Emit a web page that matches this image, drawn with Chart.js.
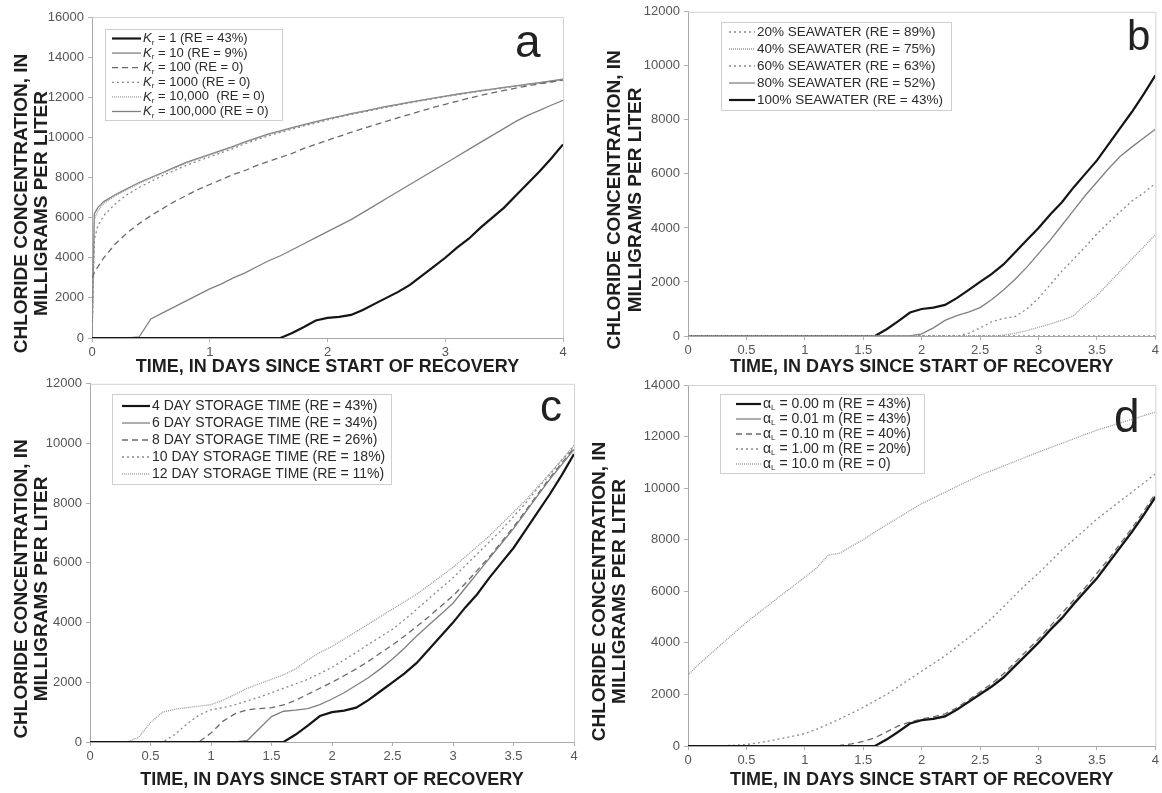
<!DOCTYPE html>
<html>
<head>
<meta charset="utf-8">
<script src="https://cdn.jsdelivr.net/npm/chart.js@4.4.1/dist/chart.umd.min.js"></script>
<style>
  body { margin: 0; background: #fff; }
  #wrap { position: relative; width: 1162px; height: 793px; overflow: hidden; }
  canvas { position: absolute; }
</style>
</head>
<body>
<div id="wrap">
  <canvas id="chartA" width="581" height="380" style="left:0;top:0"></canvas>
  <canvas id="chartB" width="581" height="380" style="left:581px;top:0"></canvas>
  <canvas id="chartC" width="581" height="421" style="left:0;top:372px"></canvas>
  <canvas id="chartD" width="581" height="421" style="left:581px;top:372px"></canvas>
</div>
<script>
// time axis, days since start of recovery
const daysA = [0, 0.02, 0.05, 0.1, 0.2, 0.3, 0.4, 0.5, 0.6, 0.7, 0.8, 0.9, 1.0, 1.1, 1.2, 1.3, 1.4, 1.5, 1.6, 1.7, 1.8, 1.9,
  2.0, 2.1, 2.2, 2.3, 2.4, 2.5, 2.6, 2.7, 2.8, 2.9, 3.0, 3.1, 3.2, 3.3, 3.4, 3.5, 3.6, 3.7, 3.8, 3.9, 4.0];
const days = [0, 0.1, 0.2, 0.3, 0.4, 0.5, 0.6, 0.7, 0.8, 0.9, 1.0, 1.1, 1.2, 1.3, 1.4, 1.5, 1.6, 1.7, 1.8, 1.9,
  2.0, 2.1, 2.2, 2.3, 2.4, 2.5, 2.6, 2.7, 2.8, 2.9, 3.0, 3.1, 3.2, 3.3, 3.4, 3.5, 3.6, 3.7, 3.8, 3.9, 4.0];

// panel a: retardation coefficient Kr (uses daysA)
const kr1 = [0, 0, 0, 0, 0, 0, 0, 0, 0, 0, 0, 0, 0, 0, 0, 0, 0, 0, 0,
  250, 550, 870, 1000, 1050, 1150, 1400, 1700, 2000, 2300, 2650, 3100, 3550, 4000, 4500, 4950, 5500, 6000, 6500, 7100, 7700, 8300, 8950, 9650];
const kr10 = [0, 0, 0, 0, 0, 0, 50, 950, 1250, 1550, 1850, 2150, 2450, 2700, 3000, 3250, 3550, 3850, 4100, 4400, 4700, 5000,
  5300, 5600, 5900, 6250, 6600, 6950, 7300, 7650, 8000, 8350, 8700, 9050, 9400, 9750, 10100, 10450, 10800, 11100, 11350, 11600, 11850];
const kr100 = [3000, 3250, 3550, 4000, 4700, 5250, 5700, 6100, 6450, 6800, 7100, 7400, 7650, 7900, 8150, 8350, 8600, 8800, 9000, 9200, 9450, 9650,
  9850, 10050, 10250, 10440, 10620, 10800, 10980, 11150, 11320, 11490, 11650, 11800, 11950, 12090, 12220, 12340, 12460, 12570, 12670, 12760, 12850];
const kr1000 = [0, 4900, 5600, 6100, 6700, 7150, 7500, 7800, 8100, 8350, 8600, 8820, 9030, 9240, 9450, 9680, 9890, 10080, 10250, 10410, 10570, 10720,
  10870, 11010, 11140, 11260, 11380, 11500, 11610, 11720, 11830, 11930, 12030, 12120, 12210, 12300, 12390, 12470, 12550, 12630, 12710, 12790, 12880];
const kr10000 = [0, 5900, 6350, 6700, 7100, 7400, 7700, 7960, 8210, 8460, 8710, 8920, 9120, 9320, 9520, 9750, 9950, 10140, 10300, 10460, 10610, 10760,
  10900, 11030, 11160, 11280, 11400, 11520, 11630, 11740, 11845, 11945, 12045, 12135, 12225, 12315, 12400, 12480, 12560, 12640, 12720, 12800, 12890];
const kr100000 = [0, 6200, 6500, 6800, 7150, 7450, 7750, 8000, 8250, 8500, 8750, 8950, 9150, 9350, 9550, 9780, 9980, 10170, 10330, 10480, 10630, 10780,
  10920, 11050, 11180, 11300, 11420, 11540, 11650, 11760, 11860, 11960, 12060, 12150, 12240, 12330, 12410, 12490, 12570, 12650, 12730, 12810, 12900];

// panel b: seawater fraction
const sw100 = [0, 0, 0, 0, 0, 0, 0, 0, 0, 0, 0, 0, 0, 0, 0, 0, 0,
  250, 550, 870, 1000, 1050, 1150, 1400, 1700, 2000, 2300, 2650, 3100, 3550, 4000, 4500, 4950, 5500, 6000, 6500, 7100, 7700, 8300, 8950, 9650];
const sw80 = [0, 0, 0, 0, 0, 0, 0, 0, 0, 0, 0, 0, 0, 0, 0, 0, 0, 0, 0, 0,
  80, 300, 580, 750, 880, 1050, 1350, 1700, 2100, 2550, 3050, 3550, 4100, 4650, 5200, 5700, 6200, 6650, 7000, 7330, 7650];
const sw60 = [0, 0, 0, 0, 0, 0, 0, 0, 0, 0, 0, 0, 0, 0, 0, 0, 0, 0, 0, 0, 0, 0, 0, 0,
  100, 300, 530, 650, 720, 1000, 1400, 1900, 2400, 2850, 3300, 3780, 4200, 4600, 5000, 5300, 5650];
const sw40 = [0, 0, 0, 0, 0, 0, 0, 0, 0, 0, 0, 0, 0, 0, 0, 0, 0, 0, 0, 0, 0, 0, 0, 0, 0, 0, 0,
  30, 100, 200, 320, 450, 580, 750, 1150, 1500, 1950, 2400, 2850, 3300, 3750];
const sw20 = [0, 0, 0, 0, 0, 0, 0, 0, 0, 0, 0, 0, 0, 0, 0, 0, 0, 0, 0, 0, 0,
  0, 0, 0, 0, 0, 0, 0, 0, 0, 0, 0, 0, 0, 0, 0, 0, 0, 0, 0, 0];

// panel c: storage time
const st4 = [0, 0, 0, 0, 0, 0, 0, 0, 0, 0, 0, 0, 0, 0, 0, 0, 0,
  250, 550, 870, 1000, 1050, 1150, 1400, 1700, 2000, 2300, 2650, 3100, 3550, 4000, 4500, 4950, 5500, 6000, 6500, 7100, 7700, 8300, 8950, 9650];
const st6 = [0, 0, 0, 0, 0, 0, 0, 0, 0, 0, 0, 0, 0,
  50, 450, 850, 1030, 1070, 1120, 1250, 1440, 1650, 1900, 2150, 2450, 2780, 3150, 3550, 3920, 4280, 4650, 5150, 5650, 6150, 6650, 7150, 7700, 8250, 8800, 9300, 9800];
const st8 = [0, 0, 0, 0, 0, 0, 0, 0, 0, 0,
  300, 700, 950, 1080, 1120, 1150, 1240, 1400, 1600, 1800, 2000, 2220, 2450, 2700, 2980, 3250, 3550, 3870, 4200, 4550, 4900, 5300, 5750, 6200, 6700, 7200, 7750, 8300, 8850, 9350, 9850];
const st10 = [0, 0, 0, 0, 0, 0, 0,
  250, 600, 900, 1080, 1150, 1250, 1380, 1500, 1650, 1800, 1950, 2100, 2300, 2500, 2750, 3000, 3270, 3520, 3780, 4100, 4450, 4800, 5150, 5500, 5900, 6300, 6700, 7100, 7550, 8000, 8500, 8950, 9450, 9900];
const st12 = [0, 0, 0, 0,
  150, 650, 1000, 1100, 1150, 1200, 1250, 1400, 1600, 1800, 1950, 2100, 2250, 2450, 2750, 3000, 3200, 3450, 3700, 3950, 4200, 4450, 4700, 4950, 5250, 5550, 5850, 6200, 6550, 6900, 7300, 7700, 8100, 8550, 9000, 9450, 9950];

// panel d: longitudinal dispersivity
const al000 = [0, 0, 0, 0, 0, 0, 0, 0, 0, 0, 0, 0, 0, 0, 0, 0, 0,
  250, 550, 870, 1000, 1050, 1150, 1400, 1700, 2000, 2300, 2650, 3100, 3550, 4000, 4500, 4950, 5500, 6000, 6500, 7100, 7700, 8300, 8950, 9650];
const al001 = [0, 0, 0, 0, 0, 0, 0, 0, 0, 0, 0, 0, 0, 0, 0, 0, 0,
  280, 580, 890, 1020, 1080, 1180, 1430, 1730, 2040, 2340, 2700, 3150, 3600, 4050, 4550, 5000, 5550, 6050, 6550, 7150, 7750, 8350, 9000, 9700];
const al010 = [0, 0, 0, 0, 0, 0, 0, 0, 0, 0, 0, 0, 0,
  20, 80, 180, 320, 550, 780, 930, 1050, 1130, 1250, 1480, 1780, 2100, 2420, 2800, 3250, 3700, 4150, 4650, 5150, 5650, 6150, 6700, 7250, 7850, 8450, 9100, 9800];
const al100 = [0, 0, 0, 10, 30, 60, 120, 200, 290, 380, 480, 650, 850, 1050, 1270, 1500, 1750, 2000, 2300, 2600,
  2900, 3200, 3500, 3850, 4200, 4550, 4950, 5400, 5850, 6300, 6700, 7150, 7600, 8000, 8400, 8800, 9150, 9500, 9850, 10200, 10550];
const al1000 = [2750, 3200, 3600, 4000, 4400, 4800, 5150, 5500, 5850, 6200, 6550, 6900, 7400, 7480, 7750, 8000, 8300, 8580, 8850, 9130,
  9400, 9620, 9840, 10060, 10280, 10500, 10680, 10860, 11040, 11220, 11400, 11570, 11740, 11910, 12080, 12250, 12390, 12530, 12670, 12810, 12950];

const labelsA = ['K_r = 1 (RE = 43%)', 'K_r = 10 (RE = 9%)', 'K_r = 100 (RE = 0)', 'K_r = 1000 (RE = 0)', 'K_r = 10,000  (RE = 0)', 'K_r = 100,000 (RE = 0)'];
const labelsB = ['20% SEAWATER (RE = 89%)', '40% SEAWATER (RE = 75%)', '60% SEAWATER (RE = 63%)', '80% SEAWATER (RE = 52%)', '100% SEAWATER (RE = 43%)'];
const labelsC = ['4 DAY STORAGE TIME (RE = 43%)', '6 DAY STORAGE TIME (RE = 34%)', '8 DAY STORAGE TIME (RE = 26%)', '10 DAY STORAGE TIME (RE = 18%)', '12 DAY STORAGE TIME (RE = 11%)'];
const labelsD = ['\u03b1_L = 0.00 m (RE = 43%)', '\u03b1_L = 0.01 m (RE = 43%)', '\u03b1_L = 0.10 m (RE = 40%)', '\u03b1_L = 1.00 m (RE = 20%)', '\u03b1_L = 10.0 m (RE = 0)'];

const X_TITLE = 'TIME, IN DAYS SINCE START OF RECOVERY';
const Y_TITLE = ['CHLORIDE CONCENTRATION, IN', 'MILLIGRAMS PER LITER'];
const FONT = '"Liberation Sans", Arial, sans-serif';

// line styles
const BLACK = { borderColor: '#151515', borderWidth: 2.2, borderDash: [] };
const SOLID = { borderColor: '#808080', borderWidth: 1.3, borderDash: [] };
const DASH = { borderColor: '#6a6a6a', borderWidth: 1.3, borderDash: [6, 4] };
const DOT = { borderColor: '#8a8a8a', borderWidth: 1.3, borderDash: [2, 3] };
const FINE = { borderColor: '#9a9a9a', borderWidth: 1.3, borderDash: [1, 1] };

function series(xs, ys, label, style) {
  return Object.assign({
    label: label,
    data: xs.map((x, i) => ({ x: x, y: ys[i] })),
    pointRadius: 0,
    tension: 0,
    fill: false
  }, style);
}

function drawLabel(ctx, text, x, y, o) {
  const base = o.fontSize + 'px ' + FONT;
  const k = text.indexOf('_');
  ctx.textBaseline = 'middle';
  ctx.textAlign = 'left';
  if (k < 0) {
    ctx.font = base;
    ctx.fillText(text, x, y);
    return;
  }
  const pre = text.slice(0, k), sub = text[k + 1], post = text.slice(k + 2);
  ctx.font = (o.italicPre ? 'italic ' : '') + base;
  ctx.fillText(pre, x, y);
  x += ctx.measureText(pre).width;
  ctx.font = Math.round(o.fontSize * 0.6) + 'px ' + FONT;
  ctx.fillText(sub, x, y + o.fontSize * 0.3);
  x += ctx.measureText(sub).width;
  ctx.font = base;
  ctx.fillText(post, x, y);
}

const panelDecor = {
  id: 'panelDecor',
  afterDraw(chart, args, o) {
    const ctx = chart.ctx;
    const ca = chart.chartArea;
    ctx.save();
    // light frame on top and right
    ctx.strokeStyle = '#d2d2d2';
    ctx.lineWidth = 1;
    ctx.beginPath();
    ctx.moveTo(ca.left, ca.top + 0.5);
    ctx.lineTo(ca.right + 0.5, ca.top + 0.5);
    ctx.lineTo(ca.right + 0.5, ca.bottom);
    ctx.stroke();
    // y-axis title, two rotated lines, sitting a little below the plot centre
    ctx.save();
    ctx.translate(0, (ca.top + ca.bottom) / 2 + 26);
    ctx.rotate(-Math.PI / 2);
    ctx.fillStyle = '#1e1e1e';
    ctx.font = 'bold 19px ' + FONT;
    ctx.textAlign = 'center';
    ctx.textBaseline = 'middle';
    Y_TITLE.forEach((line, i) => ctx.fillText(line, 0, o.yTitleX[i]));
    ctx.restore();
    // legend box
    const L = o.legend;
    ctx.fillStyle = '#fff';
    ctx.fillRect(L.x, L.y, L.w, L.h);
    ctx.strokeStyle = '#cfcfcf';
    ctx.strokeRect(L.x + 0.5, L.y + 0.5, L.w, L.h);
    chart.data.datasets.forEach((ds, i) => {
      const cy = L.rowY + i * L.rowH;
      ctx.strokeStyle = ds.borderColor;
      ctx.lineWidth = ds.borderWidth;
      ctx.setLineDash(ds.borderDash || []);
      ctx.beginPath();
      ctx.moveTo(L.sx0, cy);
      ctx.lineTo(L.sx1, cy);
      ctx.stroke();
      ctx.setLineDash([]);
      ctx.fillStyle = '#2a2a2a';
      drawLabel(ctx, ds.label, L.tx, cy, L);
    });
    // panel letter
    ctx.fillStyle = '#222';
    ctx.font = o.letter.size + 'px ' + FONT;
    ctx.textAlign = 'left';
    ctx.textBaseline = 'alphabetic';
    ctx.fillText(o.letter.text, o.letter.x, o.letter.y);
    ctx.restore();
  }
};

function makeChart(id, p) {
  new Chart(document.getElementById(id), {
    type: 'line',
    data: { datasets: p.datasets },
    plugins: [panelDecor],
    options: {
      responsive: false,
      animation: false,
      devicePixelRatio: 1,
      layout: { padding: { top: p.padTop, right: p.padRight, left: 0, bottom: 0 } },
      plugins: {
        legend: { display: false },
        tooltip: { enabled: false },
        panelDecor: { legend: p.legend, letter: p.letter, yTitleX: p.yTitleX }
      },
      scales: {
        x: {
          type: 'linear', min: 0, max: 4,
          afterFit: s => { s.height = p.xh; },
          ticks: { stepSize: p.xStep, callback: v => String(v), color: '#555', font: { family: FONT, size: 13 }, padding: 3, maxRotation: 0, autoSkip: false },
          grid: { drawOnChartArea: false, color: '#b0b0b0', tickLength: 4 },
          border: { color: '#a8a8a8' },
          title: { display: true, text: X_TITLE, color: '#1e1e1e', font: { family: FONT, size: 18, weight: 'bold', lineHeight: 1.1 }, padding: { top: 0, bottom: 3 } }
        },
        y: {
          min: 0, max: p.yMax,
          afterFit: s => { s.width = p.yw; },
          ticks: { stepSize: 2000, callback: v => String(v), color: '#555', font: { family: FONT, size: 13 }, padding: 4 },
          grid: { drawOnChartArea: false, color: '#b0b0b0', tickLength: 4 },
          border: { color: '#a8a8a8' },
          title: { display: false }
        }
      }
    }
  });
}

makeChart('chartA', {
  datasets: [
    series(daysA, kr1, labelsA[0], BLACK),
    series(daysA, kr10, labelsA[1], SOLID),
    series(daysA, kr100, labelsA[2], DASH),
    series(daysA, kr1000, labelsA[3], DOT),
    series(daysA, kr10000, labelsA[4], FINE),
    series(daysA, kr100000, labelsA[5], SOLID)
  ],
  yMax: 16000, xStep: 1, yw: 92, xh: 42, padTop: 17, padRight: 18, yTitleX: [22, 42],
  legend: { x: 105, y: 29, w: 177, h: 91, rowY: 38.5, rowH: 14.6, sx0: 112, sx1: 141, tx: 143, fontSize: 13, italicPre: true },
  letter: { text: 'a', x: 515, y: 57, size: 46 }
});

makeChart('chartB', {
  datasets: [
    series(days, sw100, labelsB[4], BLACK),
    series(days, sw80, labelsB[3], SOLID),
    series(days, sw60, labelsB[2], DOT),
    series(days, sw40, labelsB[1], FINE),
    series(days, sw20, labelsB[0], DOT)
  ].reverse(),
  yMax: 12000, xStep: 0.5, yw: 107, xh: 44, padTop: 10, padRight: 4, yTitleX: [34, 55],
  legend: { x: 140, y: 22, w: 230, h: 88, rowY: 32, rowH: 17, sx0: 148, sx1: 174, tx: 176, fontSize: 13.5, italicPre: false },
  letter: { text: 'b', x: 546, y: 50, size: 42 }
});

makeChart('chartC', {
  datasets: [
    series(days, st4, labelsC[0], BLACK),
    series(days, st6, labelsC[1], SOLID),
    series(days, st8, labelsC[2], DASH),
    series(days, st10, labelsC[3], DOT),
    series(days, st12, labelsC[4], FINE)
  ],
  yMax: 12000, xStep: 0.5, yw: 90, xh: 51, padTop: 11, padRight: 7, yTitleX: [22, 42],
  legend: { x: 112, y: 22, w: 279, h: 90, rowY: 34, rowH: 17, sx0: 122, sx1: 150, tx: 152, fontSize: 14, italicPre: false },
  letter: { text: 'c', x: 540, y: 49, size: 44 }
});

makeChart('chartD', {
  datasets: [
    series(days, al000, labelsD[0], BLACK),
    series(days, al001, labelsD[1], SOLID),
    series(days, al010, labelsD[2], DASH),
    series(days, al100, labelsD[3], DOT),
    series(days, al1000, labelsD[4], FINE)
  ],
  yMax: 14000, xStep: 0.5, yw: 107, xh: 47, padTop: 13, padRight: 4, yTitleX: [19, 39],
  legend: { x: 139, y: 22, w: 204, h: 79, rowY: 32, rowH: 15, sx0: 155, sx1: 180, tx: 182, fontSize: 14, italicPre: false },
  letter: { text: 'd', x: 533, y: 60, size: 46 }
});
</script>
</body>
</html>
